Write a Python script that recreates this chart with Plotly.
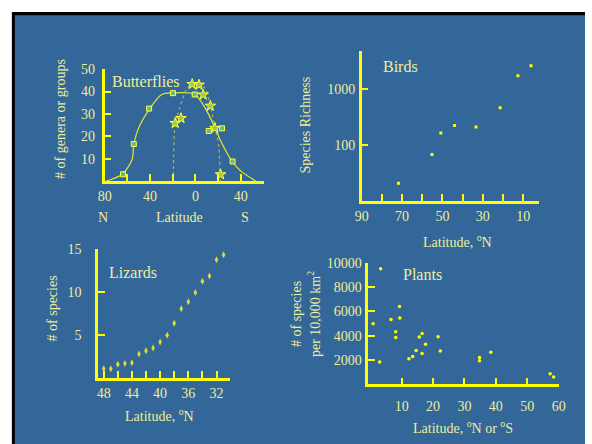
import plotly.graph_objects as go

W, H = 592, 444

# ---------------- data ----------------
# Butterflies (latitude: negative = N, positive = S)
bf_sq_lat = [-63.8, -54.3, -40.8, -19.8, -0.6, 11.8, 23.5, 32.8]
bf_sq_val = [3.1, 16.6, 32.4, 39.3, 38.7, 22.4, 23.6, 8.8]
bf_curve_lat = [-78.7, -64.4, -55.8, -54.3, -50.0, -40.5, -29.9, -19.8, -0.9, 8.9, 17.5, 21.8, 32.5, 39.9, 53.4]
bf_curve_val = [0, 3.1, 9.7, 16.3, 23.8, 32.2, 38.6, 39.4, 38.9, 32.4, 23.6, 18.5, 8.8, 4.6, 0]
bf_star_lat = [-17.8, -12.7, -2.8, 3.2, 6.9, 13.2, 17.2, 22.2]
bf_star_val = [25.9, 28.1, 43.3, 43.0, 38.6, 33.6, 23.7, 3.0]
bf_dot_lat = [-19.4, -19.2, -17.8, -14.0, -8.4, -3.2, 0.0, 3.2, 8.9, 13.2, 17.5, 20.4, 21.8, 22.0]
bf_dot_val = [0, 10.4, 25.5, 32.4, 40.4, 43.6, 44.0, 43.6, 41.2, 33.6, 23.6, 16.3, 3.0, 0]
bf_tickvals = [-80, -40, 0, 40]
bf_ticktext = ["80", "40", "0", "40"]
bf_minor = [-60, -20, 20]

# Birds
bird_lat = [71.8, 55.2, 50.8, 44.0, 33.4, 21.4, 12.6, 6.1]
bird_val = [21, 68, 165, 225, 213, 468, 1740, 2630]
bird_tickvals = [90, 70, 50, 30, 10]
bird_minor = [80, 60, 40, 20]

# Lizards
liz_lat = [48, 47, 46, 45, 44, 43, 42, 41, 40, 39, 38, 37, 36, 35, 34, 33, 32, 31]
liz_val = [1.1, 1.1, 1.6, 1.7, 1.8, 2.8, 3.2, 3.5, 4.2, 5.0, 6.4, 8.1, 8.9, 10.0, 11.3, 11.9, 13.8, 14.4]
liz_tickvals = [48, 44, 40, 36, 32]
liz_minor = [46, 42, 38, 34, 30]

# Plants
pl_lat = [3.3, 0.9, 3.0, 6.6, 8.1, 8.1, 9.3, 9.4, 12.3, 13.5, 14.6, 15.6, 16.5, 16.5, 17.6,
          21.6, 22.3, 34.8, 34.8, 38.4, 57.3, 58.4]
pl_val = [9520, 4990, 1830, 5340, 4320, 3850, 6400, 5450, 2100, 2290, 2780, 3890, 4180, 2530, 3290,
          3910, 2750, 2210, 1940, 2640, 860, 590]
pl_yticks = [2000, 4000, 6000, 8000, 10000]

# ---------------- style ----------------
BG = "#336699"
AX = "#ffff00"
TXT = "#eeee99"
FONT = "Liberation Serif"


def px_x(p):
    return p / W


def px_y(p):
    return 1 - p / H


fig = go.Figure()

# Butterflies
fig.add_trace(go.Scatter(x=bf_curve_lat, y=bf_curve_val, mode="lines",
                         line=dict(color="#e8e820", width=1.2, shape="spline", smoothing=0.8),
                         xaxis="x", yaxis="y", hoverinfo="skip"))
fig.add_trace(go.Scatter(x=bf_dot_lat, y=bf_dot_val, mode="lines",
                         line=dict(color="#a8b060", width=1.2, dash="dot", shape="spline", smoothing=0.8),
                         xaxis="x", yaxis="y", hoverinfo="skip"))
fig.add_trace(go.Scatter(x=bf_sq_lat, y=bf_sq_val, mode="markers",
                         marker=dict(symbol="square", size=5, color="#66bb88",
                                     line=dict(color="#ffff33", width=1)),
                         xaxis="x", yaxis="y"))
fig.add_trace(go.Scatter(x=bf_star_lat, y=bf_star_val, mode="markers",
                         marker=dict(symbol="star", size=8, color="#99cc44",
                                     line=dict(color="#ffff33", width=1)),
                         xaxis="x", yaxis="y"))

# Birds
fig.add_trace(go.Scatter(x=bird_lat, y=bird_val, mode="markers",
                         marker=dict(symbol="square", size=3, color="#ffff00"),
                         xaxis="x2", yaxis="y2"))
# Lizards
fig.add_trace(go.Scatter(x=liz_lat, y=liz_val, mode="markers",
                         marker=dict(symbol="diamond-tall", size=5, color="#dddd33",
                                     line=dict(color="#dddd33", width=0)),
                         xaxis="x3", yaxis="y3"))
# Plants
fig.add_trace(go.Scatter(x=pl_lat, y=pl_val, mode="markers",
                         marker=dict(symbol="circle", size=3.5, color="#ffff00"),
                         xaxis="x4", yaxis="y4"))

common = dict(showgrid=False, zeroline=False, showline=True, linecolor=AX, linewidth=2.5,
              ticks="inside", ticklen=7, tickwidth=2, tickcolor=AX,
              tickfont=dict(family=FONT, size=14, color=TXT), fixedrange=True)


def minor(vals):
    return dict(tickmode="array", tickvals=vals, ticks="inside", ticklen=7, tickwidth=2,
                tickcolor=AX, showgrid=False)


fig.update_layout(
    width=W, height=H, margin=dict(l=0, r=0, t=0, b=0),
    paper_bgcolor="white", plot_bgcolor="rgba(0,0,0,0)",
    showlegend=False,
    font=dict(family=FONT, size=14, color=TXT),
    xaxis=dict(domain=[px_x(100), px_x(263)], range=[-80, 60.3], anchor="y",
               tickmode="array", tickvals=bf_tickvals, ticktext=bf_ticktext,
               minor=minor(bf_minor), ticklabelstandoff=0, **common),
    yaxis=dict(domain=[px_y(177), px_y(62.7)], range=[0, 50.2], anchor="x",
               tickmode="array", tickvals=[10, 20, 30, 40, 50], ticklabelstandoff=4, **common),
    xaxis2=dict(domain=[px_x(363.3), px_x(545)], range=[90, 2.1], anchor="y2",
                tickmode="array", tickvals=bird_tickvals,
                minor=minor(bird_minor), ticklabelstandoff=0, **common),
    yaxis2=dict(domain=[px_y(197.3), px_y(45)], type="log", range=[1.0, 3.68], anchor="x2",
                tickmode="array", tickvals=[100, 1000], ticktext=["100", "1000"],
                ticklabelstandoff=1, **common),
    xaxis3=dict(domain=[px_x(93.3), px_x(228.3)], range=[48.8, 30.1], anchor="y3",
                tickmode="array", tickvals=liz_tickvals,
                minor=minor(liz_minor), ticklabelstandoff=0, **common),
    yaxis3=dict(domain=[px_y(377), px_y(246)], range=[0, 15.05], anchor="x3",
                tickmode="array", tickvals=[5, 10, 15], ticklabelstandoff=11, **common),
    xaxis4=dict(domain=[px_x(370), px_x(565)], range=[-0.65, 60], anchor="y4",
                tickmode="array", tickvals=[10, 20, 30, 40, 50, 60],
                ticklabelstandoff=7, **common),
    yaxis4=dict(domain=[px_y(383.3), px_y(260)], range=[0, 10000], anchor="x4",
                tickmode="array", tickvals=pl_yticks, ticktext=[str(v) for v in pl_yticks],
                ticklabelstandoff=1, **common),
)

# background panel shapes
fig.add_shape(type="rect", xref="paper", yref="paper", layer="below",
              x0=px_x(5), x1=1, y0=0, y1=px_y(5), fillcolor="black", line_width=0)
fig.add_shape(type="rect", xref="paper", yref="paper", layer="below",
              x0=px_x(8), x1=1, y0=0, y1=px_y(8.5), fillcolor=BG, line_width=0)


def ann(text, x, y, size=14, angle=0, xanchor="center"):
    fig.add_annotation(text=text, x=px_x(x), y=px_y(y), xref="paper", yref="paper",
                       showarrow=False, textangle=angle, xanchor=xanchor, yanchor="middle",
                       font=dict(family=FONT, size=size, color=TXT))


# panel labels
ann("Butterflies", 105, 75.7, size=16, xanchor="left")
ann("Birds", 383.3, 60, size=16, xanchor="left")
ann("Lizards", 102.7, 270, size=16, xanchor="left")
ann("Plants", 404, 271.7, size=16, xanchor="left")

# axis titles
ann("# of genera or groups", 55, 114, angle=-90)
ann("Latitude", 176.7, 214)
ann("N", 98, 214)
ann("S", 244, 214)
ann("Species Richness", 305.7, 120, angle=-90)
ann("Latitude, <sup>o</sup>N", 461.7, 237.7)
ann("# of species", 46.7, 306.7, angle=-90)
ann("Latitude, <sup>o</sup>N", 156, 414.3)
ann("# of species<br>per 10,000 km<sup>2</sup>", 306.5, 311.7, angle=-90)
ann("Latitude, <sup>o</sup>N or <sup>o</sup>S", 466.7, 426.7)

fig.write_html("out.html", config={"displayModeBar": False},
               post_script="document.body.style.margin='0';document.body.style.overflow='hidden';")
